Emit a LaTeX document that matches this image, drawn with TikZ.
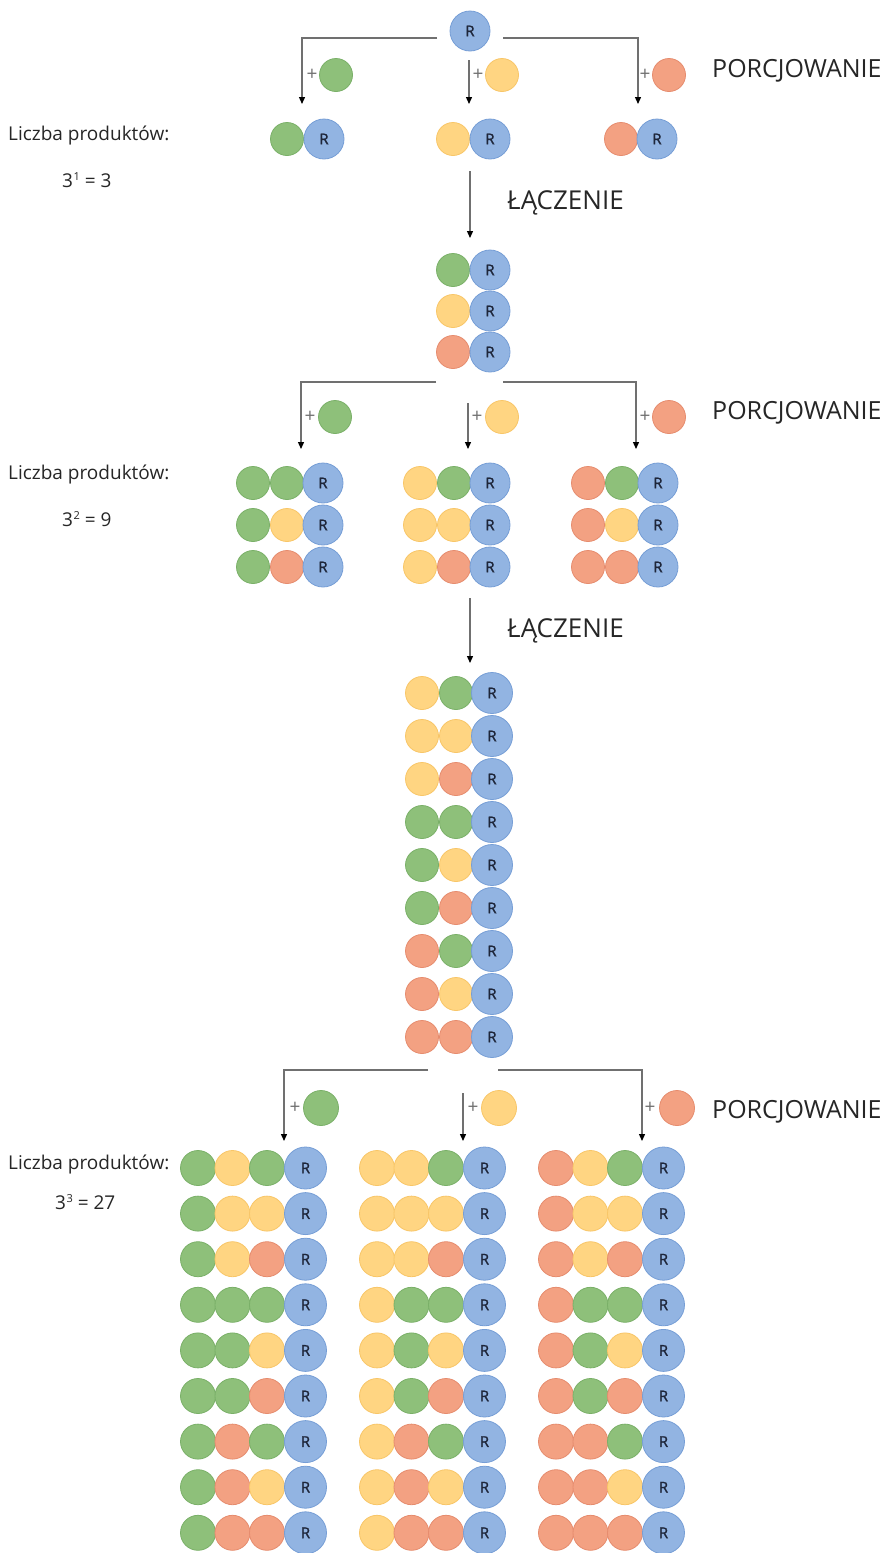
\documentclass[tikz,border=0pt]{standalone}
\usepackage{fontspec}
\setmainfont{Open Sans}
\newfontfamily\rfontfam{Open Sans}[FakeBold=1.3]
\usetikzlibrary{arrows.meta}
\definecolor{FB}{RGB}{146,180,226}
\definecolor{DB}{RGB}{118,158,214}
\definecolor{FG}{RGB}{142,192,122}
\definecolor{DG}{RGB}{122,176,104}
\definecolor{FY}{RGB}{255,213,130}
\definecolor{DY}{RGB}{248,198,104}
\definecolor{FO}{RGB}{243,161,130}
\definecolor{DO}{RGB}{230,140,110}
\definecolor{rtext}{RGB}{30,38,58}
\definecolor{lineC}{RGB}{112,112,112}
\newcommand\supnum[1]{\kern0.5pt\raisebox{6.5pt}{\fontsize{11}{11}\selectfont #1}}
\tikzset{
  ball/.style={circle, inner sep=0pt, minimum size=33pt, fill=F#1, draw=D#1, line width=0.8pt},
  bigball/.style={circle, inner sep=0pt, minimum size=35pt, fill=F#1, draw=D#1, line width=0.8pt},
  rball/.style={circle, inner sep=0pt, minimum size=40pt, fill=FB, draw=DB, line width=0.8pt,
    text=rtext, font=\rfontfam\fontsize{15}{15}\selectfont},
  rbig/.style={rball, minimum size=42pt},
  conn/.style={draw=lineC, line width=1.3pt, -{Triangle[length=7pt,width=6pt,color=black]}},
  plus/.style={text=lineC, inner sep=0pt, font=\fontsize{19}{19}\selectfont},
  stage/.style={anchor=west, inner sep=0pt, text=black!85, font=\fontsize{25}{27}\selectfont},
  stageb/.style={anchor=west, inner sep=0pt, text=black!85, font=\fontsize{26}{28}\selectfont},
  info/.style={anchor=west, inner sep=0pt, text=black!85, font=\fontsize{19}{21}\selectfont},
  count/.style={anchor=west, inner sep=0pt, text=black!85, font=\fontsize{19}{21}\selectfont},
}
\begin{document}
\begin{tikzpicture}[x=1pt,y=-1pt]
\useasboundingbox[fill=white] (0,0) rectangle (891,1553);

% ---------- level 1 ----------
\node[rball] (r0) at (470,31) {R};
\coordinate (b1l) at (437,38);
\coordinate (b1r) at (503,38);
\coordinate (b1m) at (469,60);
\coordinate (t1l) at (302,104);
\coordinate (t1m) at (469,104);
\coordinate (t1r) at (638,104);
\draw[conn] (b1l) -| (t1l);
\draw[conn] (b1r) -| (t1r);
\draw[conn] (b1m) -- (t1m);
\node[plus] (pl1a) at (312,75) {+};
\node[ball=G] (ad1a) at (336,75) {};
\node[plus] (pl1b) at (478,75) {+};
\node[ball=Y] (ad1b) at (502,75) {};
\node[plus] (pl1c) at (645,75) {+};
\node[ball=O] (ad1c) at (669,75) {};
\node[stage] (st1) at (712,71) {PORCJOWANIE};

\node[ball=G] (p1a) at (287,139) {};
\node[rball] (p1ar) at (324,139) {R};
\node[ball=Y] (p1b) at (453,139) {};
\node[rball] (p1br) at (490,139) {R};
\node[ball=O] (p1c) at (621,139) {};
\node[rball] (p1cr) at (657,139) {R};

\node[info] (inf1) at (8,136) {Liczba produktów:};
\node[count] (cnt1) at (62,180) {3\supnum{1} = 3};

% ---------- merge 1 ----------
\coordinate (m1s) at (470,171);
\coordinate (m1e) at (470,238);
\draw[conn] (m1s) -- (m1e);
\node[stageb] (lc1) at (507,203) {ŁĄCZENIE};

\foreach \c [count=\k from 0] in {G,Y,O}{
  \node[ball=\c] (s2-\k) at (453,{270+41*\k}) {};
  \node[rball] (s2r-\k) at (490,{270+41*\k}) {R};
}

% ---------- level 2 ----------
\coordinate (b2l) at (436,382);
\coordinate (b2r) at (503,382);
\coordinate (b2m) at (468,403);
\coordinate (t2l) at (301,449);
\coordinate (t2m) at (468,449);
\coordinate (t2r) at (636,449);
\draw[conn] (b2l) -| (t2l);
\draw[conn] (b2r) -| (t2r);
\draw[conn] (b2m) -- (t2m);
\node[plus] (pl2a) at (310,417) {+};
\node[ball=G] (ad2a) at (335,417) {};
\node[plus] (pl2b) at (477,417) {+};
\node[ball=Y] (ad2b) at (502,417) {};
\node[plus] (pl2c) at (645,417) {+};
\node[ball=O] (ad2c) at (669,417) {};
\node[stage] (st2) at (712,413) {PORCJOWANIE};

\foreach \g/\gx in {G/253, Y/420, O/588}{
  \foreach \c [count=\k from 0] in {G,Y,O}{
    \node[ball=\g] (p2-\g-\k-a) at (\gx,{483+42*\k}) {};
    \node[ball=\c] (p2-\g-\k-b) at ({\gx+34},{483+42*\k}) {};
    \node[rball] (p2-\g-\k-r) at ({\gx+70},{483+42*\k}) {R};
  }
}
\node[info] (inf2) at (8,474) {Liczba produktów:};
\node[count] (cnt2) at (62,519) {3\supnum{2} = 9};

% ---------- merge 2 ----------
\coordinate (m2s) at (470,598);
\coordinate (m2e) at (470,663);
\draw[conn] (m2s) -- (m2e);
\node[stageb] (lc2) at (507,631) {ŁĄCZENIE};

\foreach \b/\c [count=\k from 0] in {Y/G,Y/Y,Y/O,G/G,G/Y,G/O,O/G,O/Y,O/O}{
  \node[ball=\b] (s3-\k-a) at (422,{693+43*\k}) {};
  \node[ball=\c] (s3-\k-b) at (456,{693+43*\k}) {};
  \node[rball, minimum size=41pt] (s3-\k-r) at (492,{693+43*\k}) {R};
}

% ---------- level 3 ----------
\coordinate (b3l) at (428,1070);
\coordinate (b3r) at (498,1070);
\coordinate (b3m) at (463,1093);
\coordinate (t3l) at (284,1141);
\coordinate (t3m) at (463,1141);
\coordinate (t3r) at (642,1141);
\draw[conn] (b3l) -| (t3l);
\draw[conn] (b3r) -| (t3r);
\draw[conn] (b3m) -- (t3m);
\node[plus] (pl3a) at (295,1108) {+};
\node[bigball=G] (ad3a) at (321,1108) {};
\node[plus] (pl3b) at (473,1108) {+};
\node[bigball=Y] (ad3b) at (499,1108) {};
\node[plus] (pl3c) at (650,1108) {+};
\node[bigball=O] (ad3c) at (677,1108) {};
\node[stage] (st3) at (712,1112) {PORCJOWANIE};

\foreach \g/\gx in {G/198, Y/377, O/556}{
  \foreach \b/\c [count=\k from 0] in {Y/G,Y/Y,Y/O,G/G,G/Y,G/O,O/G,O/Y,O/O}{
    \node[bigball=\g] (p3-\g-\k-a) at (\gx,{1168+45.6*\k}) {};
    \node[bigball=\b] (p3-\g-\k-b) at ({\gx+34.5},{1168+45.6*\k}) {};
    \node[bigball=\c] (p3-\g-\k-c) at ({\gx+69},{1168+45.6*\k}) {};
    \node[rbig] (p3-\g-\k-r) at ({\gx+107.5},{1168+45.6*\k}) {R};
  }
}
\node[info] (inf3) at (8,1164) {Liczba produktów:};
\node[count] (cnt3) at (55,1202) {3\supnum{3} = 27};
\end{tikzpicture}
\end{document}
